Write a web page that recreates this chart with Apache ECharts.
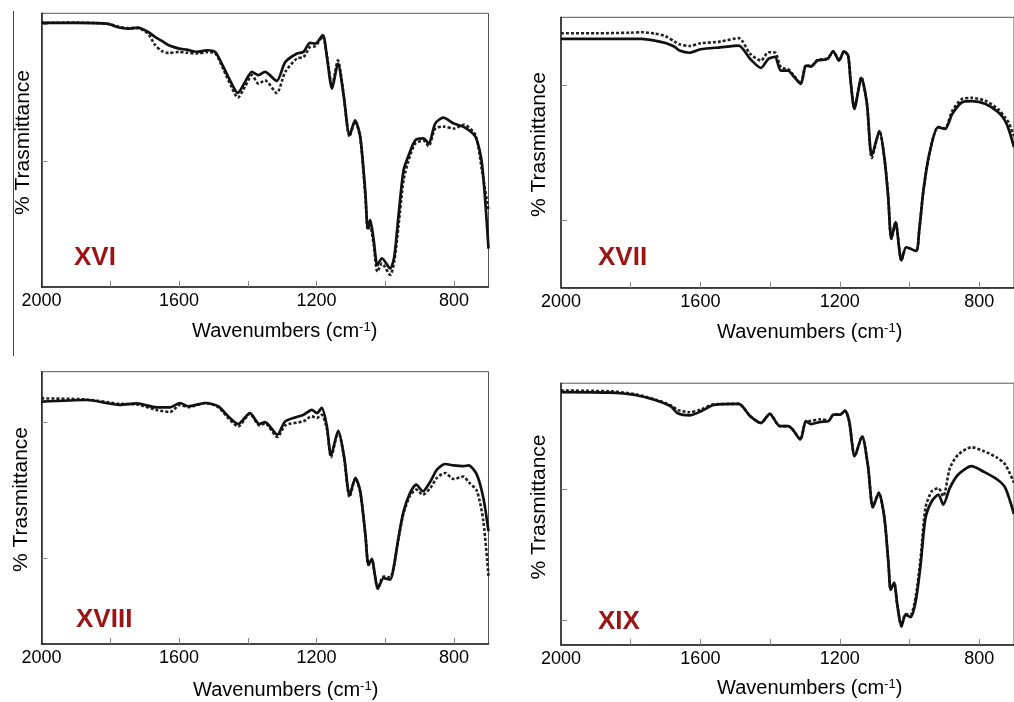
<!DOCTYPE html>
<html>
<head>
<meta charset="utf-8">
<script src="https://cdn.jsdelivr.net/npm/echarts@6/dist/echarts.min.js"></script>
<style>html,body{margin:0;padding:0;background:#fff;}#c{width:1014px;height:702px;}</style>
</head>
<body>
<div id="c"></div>
<script>
// ---- Data (wavenumber in cm-1, transmittance in arbitrary units 0-100 of plot height) ----
const xvi_wn     = [2000,1900,1810,1780,1750,1720,1690,1670,1650,1630,1600,1578,1548,1519,1495,1471,1447,1429,1408,1388,1369,1350,1316,1291,1257,1238,1219,1204,1182,1170,1155,1138,1122,1104,1088,1073,1058,1051,1044,1034,1023,1010,986,974,962,947,932,913,889,874,855,831,801,772,738,719,700];
const xvi_solid  = [96.5,96.5,96.2,95.0,94.4,94.8,93.2,91.4,89.9,88.3,87.1,86.7,85.9,86.5,85.9,80.4,74.3,70.9,74.9,78.6,77.4,78.6,75.3,82.2,85.3,85.9,89.2,88.9,92.0,84.1,72.5,81.6,70.7,55.5,60.9,54.9,34.2,21.4,24.5,17.2,8.0,10.5,6.8,11.1,25.7,42.7,48.2,53.6,54.3,52.4,59.7,61.9,59.7,58.5,54.9,45.1,14.0];
const xvi_dashed = [96.5,96.6,96.2,95.3,94.6,94.6,92.5,88.5,86.2,85.5,85.9,85.6,85.3,85.8,85.4,79.5,73.0,69.2,73.2,77.4,74.3,75.5,70.9,78.6,83.5,84.0,87.7,88.0,91.5,84.5,73.5,82.8,71.0,55.0,60.5,54.5,33.0,21.0,22.0,15.5,5.6,8.6,4.4,9.5,22.0,39.0,46.5,52.4,53.5,51.5,57.9,58.6,57.9,59.3,55.5,42.5,28.0];

const xvii_wn     = [2000,1900,1800,1769,1731,1700,1674,1660,1631,1599,1543,1490,1457,1426,1405,1386,1369,1348,1334,1312,1297,1282,1264,1235,1219,1202,1188,1176,1169,1158,1138,1122,1108,1086,1071,1061,1052,1040,1023,1009,981,972,960,943,918,898,877,849,821,783,745,726,715,700];
const xvii_solid  = [92.0,92.0,92.0,92.0,91.4,90.5,89.1,87.7,86.9,88.2,88.9,89.5,84.6,81.3,84.6,85.4,80.3,80.3,78.4,75.4,82.1,81.8,84.0,84.6,87.4,84.0,87.4,85.8,76.6,66.1,77.6,68.0,48.9,57.9,47.0,33.5,18.1,24.3,10.1,15.0,13.6,21.2,35.9,49.5,59.4,58.7,64.3,68.6,69.0,68.0,64.9,61.8,58.5,52.0];
const xvii_dashed = [94.1,94.1,94.3,94.5,94.0,93.0,91.0,90.0,89.4,90.4,91.0,92.3,86.5,84.0,87.1,87.0,81.5,80.8,78.8,75.6,82.3,82.0,84.2,84.8,87.4,84.0,87.4,85.8,76.6,66.5,77.8,68.0,48.0,57.9,47.0,33.5,18.1,24.3,10.1,15.0,13.6,21.2,35.9,49.5,59.4,59.0,65.5,69.8,70.2,69.2,66.0,63.0,61.0,56.0];

const xviii_wn     = [2000,1869,1772,1723,1665,1626,1597,1573,1524,1486,1457,1428,1394,1366,1350,1314,1291,1238,1214,1199,1185,1170,1158,1137,1120,1104,1087,1073,1058,1049,1039,1032,1022,1005,986,976,962,947,928,910,891,869,850,826,802,773,758,734,715,700];
const xviii_solid  = [89.0,89.6,87.8,88.4,86.9,86.9,88.5,87.3,88.5,87.3,83.6,80.8,84.8,80.8,81.5,76.9,81.8,84.2,86.0,84.8,86.7,79.9,69.3,78.3,68.9,54.6,61.0,56.1,40.1,29.1,31.3,26.7,20.3,24.2,23.6,27.9,38.9,48.7,55.5,58.5,56.1,59.7,64.0,66.1,65.6,65.3,65.6,62.2,53.6,41.4];
const xviii_dashed = [90.2,89.8,88.2,88.0,85.9,85.2,87.8,87.0,88.5,87.0,83.0,79.9,84.5,80.3,81.0,76.0,80.3,81.8,83.6,83.0,84.2,79.0,68.6,78.0,68.5,54.0,60.8,55.8,40.0,29.0,31.0,26.5,20.3,24.8,24.5,28.2,38.5,48.0,54.5,56.7,54.8,57.3,61.0,62.8,60.6,61.5,59.5,56.3,45.1,24.9];

const xix_wn     = [2000,1862,1787,1730,1684,1665,1631,1598,1561,1490,1457,1426,1401,1372,1348,1335,1313,1297,1283,1255,1232,1218,1199,1185,1173,1157,1136,1119,1105,1088,1072,1060,1054,1044,1035,1023,1011,997,982,968,954,936,917,903,884,860,822,786,748,725,700];
const xix_solid  = [96.6,96.4,95.5,93.6,91.1,88.5,87.7,89.3,91.7,92.1,87.4,84.8,88.3,83.6,83.6,82.3,78.5,85.5,84.4,85.2,85.5,88.0,88.0,89.5,85.5,72.1,79.7,68.3,52.6,58.1,48.6,30.7,21.1,23.7,15.4,7.1,11.6,10.6,16.7,30.7,48.5,54.9,57.4,53.6,60.0,65.1,68.3,66.1,63.2,60.0,50.0];
const xix_dashed = [97.2,96.9,95.8,93.8,91.5,89.8,88.9,90.0,91.9,92.1,87.4,84.8,88.3,83.6,83.6,82.3,78.5,85.5,85.6,86.2,85.8,88.0,88.0,89.5,85.5,72.1,79.7,68.3,52.6,58.1,48.6,30.7,21.1,23.7,15.4,7.1,11.8,11.5,18.5,33.2,52.4,58.7,59.9,56.8,67.6,72.7,75.5,74.0,71.5,68.9,62.0];

const xTickValues  = [800,1000,1200,1400,1600,1800];
const xLabelValues = [2000,1600,1200,800];
const panelNames   = ['XVI','XVII','XVIII','XIX'];
const yTicks       = [[46,96],[25,75],[31.5,81.5],[9.5,59.5]];

// ---- Layout ----
const grids = [
  {left:41.5, top:13.3, width:447, height:273.7},
  {left:561,  top:17.3, width:461.5, height:270.5},
  {left:41.5, top:371.7, width:447, height:272.3},
  {left:561,  top:383.2, width:461.5, height:261.7}
];
const panelData = [
  [xvi_wn, xvi_solid, xvi_dashed],
  [xvii_wn, xvii_solid, xvii_dashed],
  [xviii_wn, xviii_solid, xviii_dashed],
  [xix_wn, xix_solid, xix_dashed]
];
const FONT = 'Liberation Sans, Arial, sans-serif';

const zip = (a,b) => a.map((v,i)=>[v,b[i]]);

const option = {
  backgroundColor:'#fff',
  animation:false,
  grid: grids.map(g => Object.assign({show:true, borderColor:'#555', borderWidth:1, containLabel:false}, g)),
  xAxis: grids.map((g,i)=>({
    type:'value', gridIndex:i, min:700, max:2000, inverse:true,
    axisLine:{show:true, onZero:false, lineStyle:{color:'#222', width:1.5}},
    axisTick:{show:true, inside:true, length:6, customValues:xTickValues, lineStyle:{color:'#888', width:1}},
    axisLabel:{show:true, customValues:xLabelValues, fontSize:18, color:'#000', fontFamily:FONT, margin:5,
               formatter: v => String(v)},
    splitLine:{show:false}
  })),
  yAxis: grids.map((g,i)=>({
    type:'value', gridIndex:i, min:0, max:100,
    axisLine:{show:true, onZero:false, lineStyle:{color:'#222', width:1.5}},
    axisTick:{show:true, inside:true, length:6, customValues:yTicks[i], lineStyle:{color:'#888', width:1}},
    axisLabel:{show:false},
    splitLine:{show:false}
  })),
  series: [],
  graphic: []
};

panelData.forEach((p,i)=>{
  option.series.push({
    type:'line', xAxisIndex:i, yAxisIndex:i, data:zip(p[0],p[2]), showSymbol:false, smooth:0.25,
    lineStyle:{color:'#222', width:2.6, type:[3,2]}, z:2, clip:true
  });
  option.series.push({
    type:'line', xAxisIndex:i, yAxisIndex:i, data:zip(p[0],p[1]), showSymbol:false, smooth:0.25,
    lineStyle:{color:'#111', width:2.7}, z:3, clip:true
  });
});

// x-axis titles
const xTitlePos = [[192,331],[717,332],[193,690],[717,688]];
xTitlePos.forEach(pos=>{
  option.graphic.push({
    type:'text', x:pos[0], y:pos[1], silent:true,
    style:{
      text:'{a|Wavenumbers (cm}{s|-1}{a|)}',
      align:'left', verticalAlign:'middle', fill:'#000',
      rich:{a:{fontSize:20, fontFamily:FONT, fill:'#000'}, s:{fontSize:13, fontFamily:FONT, fill:'#000', verticalAlign:'top'}}
    }
  });
});
// y-axis names
const yNamePos = [[23,142.5],[539,144.5],[21,499.5],[539,507]];
yNamePos.forEach(pos=>{
  option.graphic.push({
    type:'text', x:pos[0], y:pos[1], rotation:Math.PI/2, silent:true,
    style:{text:'% Trasmittance', fontSize:21, fontFamily:FONT, fill:'#000', align:'center', verticalAlign:'middle'}
  });
});
// panel labels
const labelPos = [[74,258.3],[598,258.3],[76,619.5],[598,621.7]];
labelPos.forEach((pos,i)=>{
  option.graphic.push({
    type:'text', x:pos[0], y:pos[1], silent:true,
    style:{text:panelNames[i], fontSize:26, fontWeight:'bold', fontFamily:FONT, fill:'#9b1515', align:'left', verticalAlign:'middle'}
  });
});
// separator line on the left
option.graphic.push({
  type:'line', silent:true,
  shape:{x1:13.5, y1:11, x2:13.5, y2:356},
  style:{stroke:'#444', lineWidth:1}
});

const chart = echarts.init(document.getElementById('c'), null, {renderer:'canvas'});
chart.setOption(option);
</script>
</body>
</html>
